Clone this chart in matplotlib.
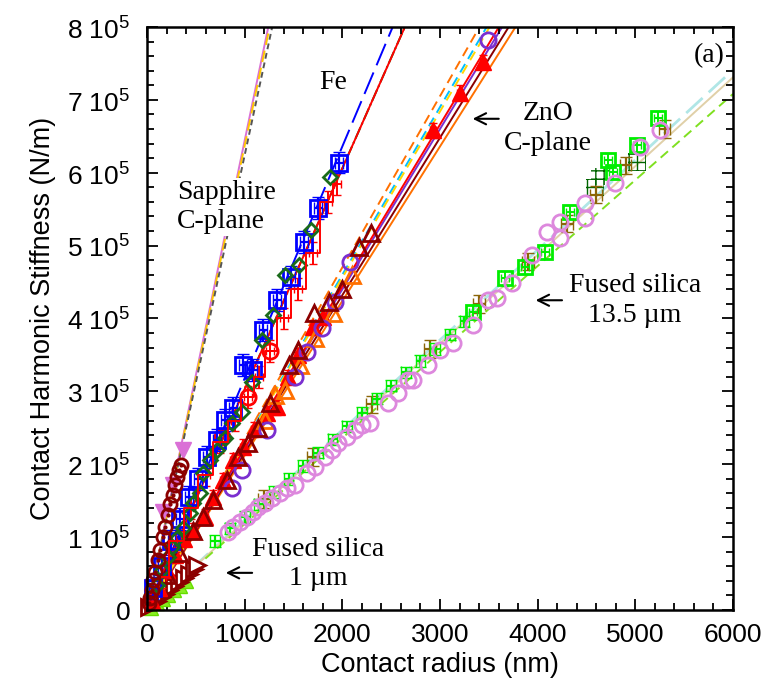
import matplotlib.pyplot as plt
from matplotlib.ticker import MultipleLocator

plt.rcParams['font.family'] = 'Liberation Sans'
plt.rcParams['mathtext.fontset'] = 'custom'
plt.rcParams['mathtext.rm'] = 'Liberation Sans'

# stiffness values are in units of 1e5 N/m, radius in nm
# --- Sapphire C-plane ---
sap_circ_x = [20, 31, 51, 61, 82, 113, 133, 163, 184, 215, 240, 266, 290, 310, 330, 345]
sap_circ_y = [0.10, 0.16, 0.27, 0.41, 0.52, 0.69, 0.82, 1.00, 1.14, 1.30, 1.45, 1.58, 1.72, 1.82, 1.92, 1.99]
sap_tri_x = [164, 266, 370]
sap_tri_y = [1.34, 1.71, 2.20]
sap_slopes = [644, 637, 624]  # N/m per nm: pink solid, yellow dashed, grey dashed

# --- Fe ---
fe_sq_x = [60, 150, 250, 340, 430, 520, 614, 716, 798, 880, 983, 1085, 1187, 1331, 1474, 1607, 1750, 1965]
fe_sq_y = [0.30, 0.60, 0.95, 1.25, 1.55, 1.80, 2.10, 2.33, 2.61, 2.77, 3.36, 3.29, 3.84, 4.25, 4.57, 5.05, 5.51, 6.14]
fe_dia_x = [100, 150, 215, 256, 307, 368, 440, 471, 542, 573, 645, 716, 798, 870, 972, 1075, 1177, 1290, 1413, 1556, 1679, 1873]
fe_dia_y = [0.35, 0.55, 0.73, 0.86, 0.99, 1.12, 1.33, 1.47, 1.60, 1.88, 2.06, 2.19, 2.36, 2.57, 2.72, 3.13, 3.70, 4.05, 4.60, 4.73, 5.21, 5.94]
fe_red_x = [150, 300, 450, 600, 750, 900, 1034, 1150, 1259, 1400, 1550, 1700, 1850, 1950]
fe_red_y = [0.45, 0.95, 1.40, 1.85, 2.30, 2.60, 2.92, 3.20, 3.55, 4.00, 4.40, 4.90, 5.60, 5.85]
fe_red_circ_x = [768, 1034, 1259]
fe_red_circ_y = [2.37, 2.92, 3.55]
fe_slopes = [318, 303, 303]  # blue long dash, green dash-dot, red solid

# --- ZnO C-plane ---
zno_tri_x = [200, 330, 470, 573, 676, 819, 931, 1034, 1136, 1259, 1453, 1546, 1709, 1863, 1996, 2170, 2293]
zno_tri_y = [0.48, 0.78, 1.08, 1.28, 1.51, 1.78, 2.10, 2.29, 2.50, 2.84, 3.36, 3.57, 4.07, 4.22, 4.40, 4.98, 5.17]
zno_purple_x = [870, 972, 1228, 1515, 1638, 1791, 1924, 2078, 3490]
zno_purple_y = [1.67, 1.92, 2.47, 3.20, 3.54, 3.87, 4.22, 4.77, 7.82]
zno_orange_x = [1208, 1310, 1412, 1566, 1720, 1904, 2098]
zno_orange_y = [2.61, 2.95, 3.02, 3.36, 3.73, 4.07, 4.60]
zno_red_x = [50, 120, 205, 290, 380, 470, 594, 676, 778, 880, 983, 1100, 1228, 1330, 1443, 1546, 1699, 1801,
             2927, 3204, 3439]
zno_red_y = [0.12, 0.30, 0.55, 0.75, 0.98, 1.10, 1.28, 1.55, 1.78, 2.06, 2.24, 2.48, 2.70, 2.78, 3.20, 3.50, 3.88, 4.02,
             6.58, 7.10, 7.52]
zno_solid_slopes = [212, 216, 220, 222]  # orange, maroon, purple, red
zno_dash_slopes = [235, 230, 228]  # orange, deep sky blue, gold

# --- Fused silica, 13.5 um tip ---
fs_circ_x = [829, 880, 952, 1024, 1085, 1136, 1208, 1279, 1361, 1433, 1515, 1638, 1720, 1822, 1894, 1955, 2047,
             2129, 2201, 2282, 2467, 2569, 2671, 2723, 2876, 2999, 3132, 3337, 3490, 3582, 3736, 3941, 4094, 4227,
             4227, 4483, 4483, 4790, 5046, 5250]
fs_circ_y = [1.07, 1.14, 1.21, 1.28, 1.34, 1.41, 1.47, 1.54, 1.60, 1.67, 1.71, 1.88, 1.96, 2.10, 2.19, 2.29, 2.37,
             2.47, 2.54, 2.57, 2.84, 2.98, 3.16, 3.16, 3.36, 3.57, 3.66, 3.91, 4.25, 4.28, 4.49, 4.87, 5.19, 5.10,
             5.32, 5.38, 5.58, 5.86, 6.35, 6.58]
fs_bar_x = [700, 850, 1000, 1150, 1300, 1450, 1600, 1750, 1900, 2050, 2200, 2350, 2500, 2650, 2800, 2950, 3100, 3250]
fs_bar_y = [0.95, 1.12, 1.28, 1.45, 1.62, 1.80, 1.98, 2.16, 2.34, 2.52, 2.70, 2.90, 3.08, 3.26, 3.42, 3.58, 3.78, 3.96]
fs_sq_x = [3337, 3664, 3869, 4074, 4330, 4718, 4770, 5015, 5230]
fs_sq_y = [4.09, 4.55, 4.71, 4.91, 5.46, 6.17, 6.01, 6.38, 6.75]
fs_hatch_x = [4585, 4640, 5015]
fs_hatch_y = [5.80, 5.95, 6.15]
fs_brown_x = [1200, 1700, 2300, 2900, 3400, 3900, 4300, 4600, 4900, 5300]
fs_brown_y = [1.52, 2.10, 2.82, 3.58, 4.20, 4.78, 5.30, 5.70, 6.10, 6.60]
fs_slopes = [123.5, 121.8, 118]  # light cyan dashed, tan solid, chartreuse dashed

# --- Fused silica, 1 um tip ---
fs1_tri_x = [20, 60, 100, 140, 180, 230, 280, 330, 380, 430, 480, 512]
fs1_tri_y = [0.04, 0.09, 0.13, 0.18, 0.22, 0.28, 0.33, 0.39, 0.44, 0.50, 0.56, 0.62]
fs1_lime_x = [40, 100, 160, 220, 280, 340, 400]
fs1_lime_y = [0.03, 0.09, 0.15, 0.21, 0.27, 0.33, 0.40]

y_ticks = [0, 1, 2, 3, 4, 5, 6, 7, 8]
x_ticks = [0, 1000, 2000, 3000, 4000, 5000, 6000]


def fit(ax, slope, x_end, color, ls, lw=1.4, dashes=None):
    xs = [0, x_end]
    ys = [slope * x / 1e5 for x in xs]
    line, = ax.plot(xs, ys, color=color, ls=ls, lw=lw, zorder=1)
    if dashes:
        line.set_dashes(dashes)


fig = plt.figure(figsize=(7.68, 6.91), dpi=100)
ax = fig.add_axes([0.1914, 0.1172, 0.7630, 0.8438])

# fitted lines
fit(ax, sap_slopes[0], 1400, '#da70d6', '-')
fit(ax, sap_slopes[1], 1400, '#ffc800', '--', dashes=[6, 3])
fit(ax, sap_slopes[2], 1400, '#555555', '--', dashes=[3, 2])
fit(ax, fe_slopes[0], 2700, '#0000ff', '-', dashes=[12, 4])
fit(ax, fe_slopes[1], 2800, '#006400', '-.')
fit(ax, fe_slopes[2], 2800, '#ff0000', '-')
for s, c in zip(zno_solid_slopes, ['#ff7000', '#8b0000', '#7b2fd0', '#ff0000']):
    fit(ax, s, 4000, c, '-')
for s, c in zip(zno_dash_slopes, ['#ff7000', '#00bfff', '#ffd700']):
    fit(ax, s, 4000, c, '--', dashes=[5, 3])
fit(ax, fs_slopes[0], 6000, '#b0e6e6', '--', lw=2, dashes=[8, 3])
fit(ax, fs_slopes[1], 6000, '#e0d0a8', '-')
fit(ax, fs_slopes[2], 6000, '#7fe020', '--', dashes=[5, 3])

mk = dict(clip_on=False, ls='none', mfc='none', mew=2)

# fused silica 1 um
ax.plot(fs1_lime_x, fs1_lime_y, marker='^', ms=10, color='#66dd00', mfc='#88ee22', clip_on=False, ls='none')
ax.plot(fs1_tri_x, fs1_tri_y, marker='>', ms=11, color='#8b0000', mfc='white', mew=2, clip_on=False, ls='none')

# fused silica 13.5 um
ax.errorbar(fs_brown_x, fs_brown_y, xerr=60, yerr=0.12, fmt='none', ecolor='#8b6508', capsize=4, lw=1.6)
ax.scatter(fs_hatch_x, fs_hatch_y, s=160, marker='s', facecolor='none', edgecolor='#006400', hatch='++', lw=0)
ax.errorbar(fs_bar_x, fs_bar_y, xerr=50, yerr=0.08, fmt='none', ecolor='#00ee00', capsize=4, lw=1.6)
ax.errorbar(fs_sq_x, fs_sq_y, xerr=40, yerr=0.1, fmt='none', ecolor='#00ee00', capsize=3, lw=1.4)
ax.plot(fs_sq_x, fs_sq_y, marker='s', ms=10.5, color='#00ee00', **mk)
ax.plot(fs_sq_x, fs_sq_y, marker='_', ms=3, mew=1.5, color='#00ee00', ls='none')
ax.plot(fs_circ_x, fs_circ_y, marker='o', ms=11, color='#dd88dd', **mk)

# ZnO
ax.errorbar(zno_red_x, zno_red_y, xerr=30, yerr=0.1, fmt='none', ecolor='#ff0000', capsize=3, lw=1.4)
ax.plot(zno_red_x, zno_red_y, marker='^', ms=11, color='#ff0000', ls='none', clip_on=False)
ax.plot(zno_orange_x, zno_orange_y, marker='^', ms=11, color='#ff7000', **mk)
ax.plot(zno_purple_x, zno_purple_y, marker='o', ms=11, color='#7b2fd0', **mk)
ax.plot(zno_tri_x, zno_tri_y, marker='^', ms=11.5, color='#8b0000', **mk)

# Fe
ax.errorbar(fe_red_x, fe_red_y, xerr=40, yerr=0.15, color='#ff0000', capsize=3, lw=1.4, drawstyle='steps-mid')
ax.plot(fe_red_circ_x, fe_red_circ_y, marker='o', ms=11, color='#ff0000', **mk)
ax.errorbar(fe_sq_x, fe_sq_y, xerr=40, yerr=0.15, fmt='none', ecolor='#0000ff', capsize=4, lw=1.6)
ax.plot(fe_sq_x, fe_sq_y, marker='s', ms=11, color='#0000ff', **mk)
ax.plot(fe_dia_x, fe_dia_y, marker='D', ms=7.5, color='#1a6b1a', **mk)

# sapphire
ax.plot(sap_tri_x, sap_tri_y, marker='v', ms=11, color='#da70d6', ls='none', clip_on=False)
ax.plot(sap_circ_x, sap_circ_y, marker='o', ms=9.5, color='#8b0000', **mk)
ax.plot(sap_circ_x, sap_circ_y, marker='.', ms=4, color='#8b0000', ls='none', clip_on=False)

# annotations
serif = dict(family='Liberation Serif', fontsize=20)
ax.text(307, 5.53, 'Sapphire\nC-plane', ha='left', va='center', linespacing=1.25,
        bbox=dict(fc='white', ec='none', pad=1), zorder=5, **serif)
ax.text(1904, 7.24, 'Fe', ha='center', va='center', **serif)
ax.text(4104, 6.61, 'ZnO\nC-plane', ha='center', va='center', linespacing=1.25, **serif)
ax.text(4995, 4.25, 'Fused silica\n13.5 \u00b5m', ha='center', va='center', linespacing=1.25, **serif)
ax.text(1750, 0.63, 'Fused silica\n1 \u00b5m', ha='center', va='center', linespacing=1.25, **serif)
ax.text(5910, 7.6, '(a)', ha='right', va='center', **serif)

arrow = dict(arrowstyle='->', color='black', lw=1.5, mutation_scale=20)
ax.annotate('', xy=(3306, 6.74), xytext=(3630, 6.74), arrowprops=arrow)
ax.annotate('', xy=(3951, 4.25), xytext=(4278, 4.25), arrowprops=arrow)
ax.annotate('', xy=(778, 0.51), xytext=(1105, 0.51), arrowprops=arrow)

ax.set_xlim(0, 6000)
ax.set_ylim(0, 8)
ax.set_xticks(x_ticks)
ax.set_xticklabels([str(v) for v in x_ticks])
ax.set_yticks(y_ticks)
ax.set_yticklabels(['0'] + ['%d 10$^5$' % v for v in y_ticks[1:]])
ax.xaxis.set_minor_locator(MultipleLocator(200))
ax.yaxis.set_minor_locator(MultipleLocator(0.2))
ax.tick_params(which='both', direction='in', top=True, right=True, width=1.3, labelsize=19)
ax.tick_params(which='major', length=8)
ax.tick_params(which='minor', length=5)
ax.tick_params(axis='y', pad=12)
ax.tick_params(axis='x', pad=9)
for sp in ax.spines.values():
    sp.set_linewidth(1.8)

ax.set_xlabel('Contact radius (nm)', fontsize=19.5, labelpad=4)
ax.set_ylabel('Contact Harmonic Stiffness (N/m)', fontsize=19.5, labelpad=8)

fig.savefig('out.png', dpi=100)
